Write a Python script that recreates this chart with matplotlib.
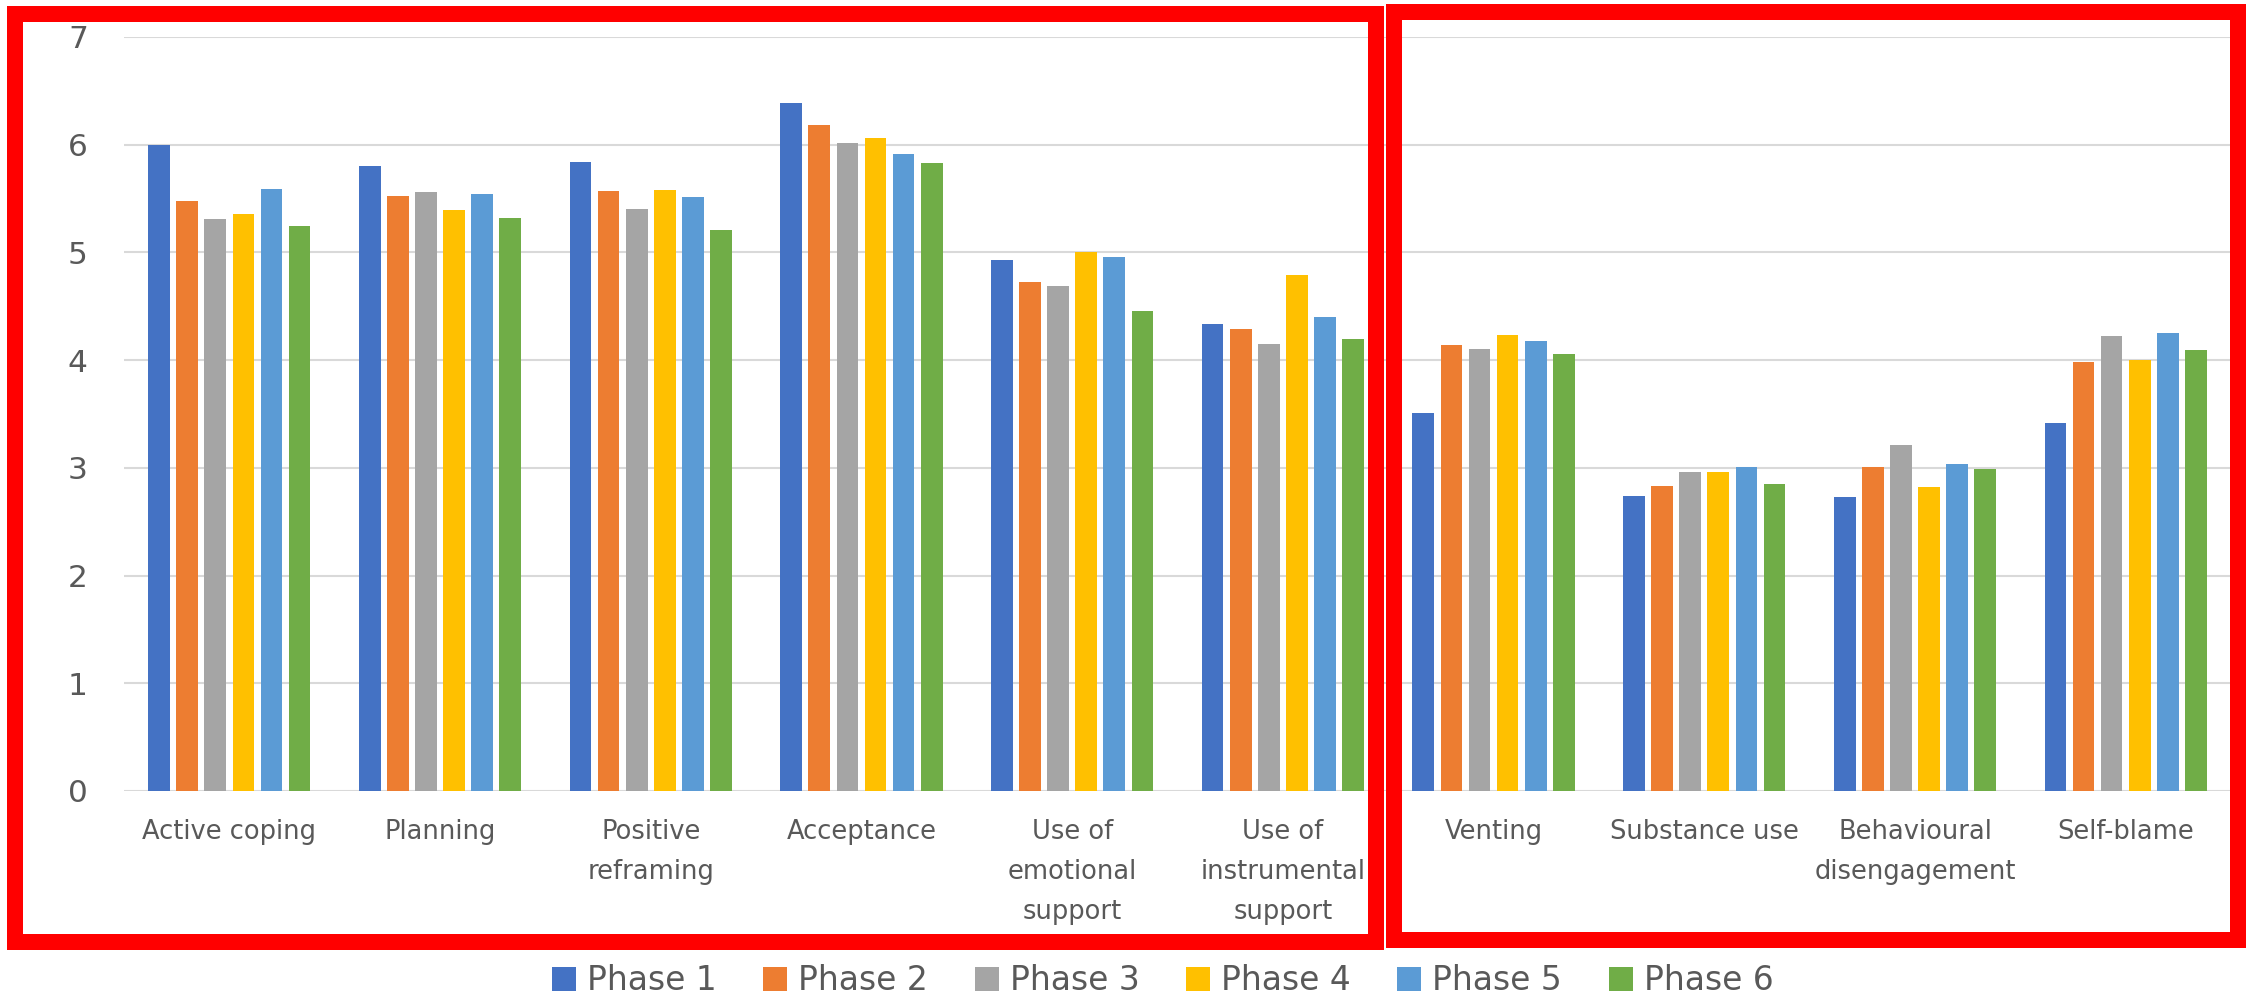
import matplotlib
matplotlib.use("Agg")
import matplotlib.pyplot as plt
from matplotlib.patches import Rectangle, Patch
import numpy as np

plt.rcParams['font.family'] = ['DejaVu Sans']

categories = [
    "Active coping", "Planning", "Positive\nreframing", "Acceptance",
    "Use of\nemotional\nsupport", "Use of\ninstrumental\nsupport",
    "Venting", "Substance use", "Behavioural\ndisengagement", "Self-blame",
]
phases = ["Phase 1", "Phase 2", "Phase 3", "Phase 4", "Phase 5", "Phase 6"]

phase1 = [6.00, 5.80, 5.84, 6.39, 4.93, 4.34, 3.51, 2.74, 2.73, 3.42]
phase2 = [5.48, 5.52, 5.57, 6.18, 4.73, 4.29, 4.14, 2.83, 3.01, 3.98]
phase3 = [5.31, 5.56, 5.40, 6.02, 4.69, 4.15, 4.10, 2.96, 3.21, 4.22]
phase4 = [5.36, 5.39, 5.58, 6.06, 5.00, 4.79, 4.23, 2.96, 2.82, 4.00]
phase5 = [5.59, 5.54, 5.51, 5.91, 4.96, 4.40, 4.18, 3.01, 3.04, 4.25]
phase6 = [5.25, 5.32, 5.21, 5.83, 4.46, 4.20, 4.06, 2.85, 2.99, 4.09]
series = [phase1, phase2, phase3, phase4, phase5, phase6]

colors = ["#4472C4", "#ED7D31", "#A5A5A5", "#FFC000", "#5B9BD5", "#70AD47"]
yticks = [0, 1, 2, 3, 4, 5, 6, 7]

W, H = 2249, 1000
fig = plt.figure(figsize=(W / 100, H / 100), dpi=100)
ax = fig.add_axes([124 / W, 1 - 791 / H, (2231 - 124) / W, (791 - 37) / H])

x = np.arange(len(categories))
step = 0.1334
width = 0.103
for j, (vals, col, name) in enumerate(zip(series, colors, phases)):
    ax.bar(x + (j - 2.5) * step, vals, width=width, color=col, label=name, zorder=3)

ax.set_xlim(-0.5, len(categories) - 0.5)
ax.set_ylim(0, 7)
ax.set_yticks(yticks)
ax.set_yticklabels([str(v) for v in yticks])
ax.set_xticks(x)
ax.set_xticklabels(categories, linespacing=1.7)

for y in yticks:
    ax.axhline(y, color="#D9D9D9", lw=1.5, zorder=1)

for s in ax.spines.values():
    s.set_visible(False)
ax.tick_params(axis="both", length=0, colors="#595959")
ax.tick_params(axis="y", labelsize=22.5, pad=26)
ax.tick_params(axis="x", labelsize=18.5, pad=20)

# legend along the bottom
handles = [Patch(facecolor=c, edgecolor="none", label=n) for c, n in zip(colors, phases)]
fig.legend(handles=handles, loc="center", bbox_to_anchor=(0.517, 0.019), ncol=6,
           frameon=False, fontsize=23.7, labelcolor="#595959",
           handlelength=0.73, handleheight=0.73, handletextpad=0.33,
           columnspacing=1.42, borderpad=0, borderaxespad=0)

# red frames around the two groups of strategies
lw_px = 16
for (x0, y0, x1, y1) in [(15, 14, 1376, 942), (1394, 12, 2238, 940)]:
    fig.add_artist(Rectangle((x0 / W, 1 - y1 / H), (x1 - x0) / W, (y1 - y0) / H,
                             transform=fig.transFigure, fill=False,
                             edgecolor="#FF0000", lw=lw_px * 0.72,
                             joinstyle="miter", zorder=10))

fig.savefig("out.png", dpi=100, facecolor="white")
